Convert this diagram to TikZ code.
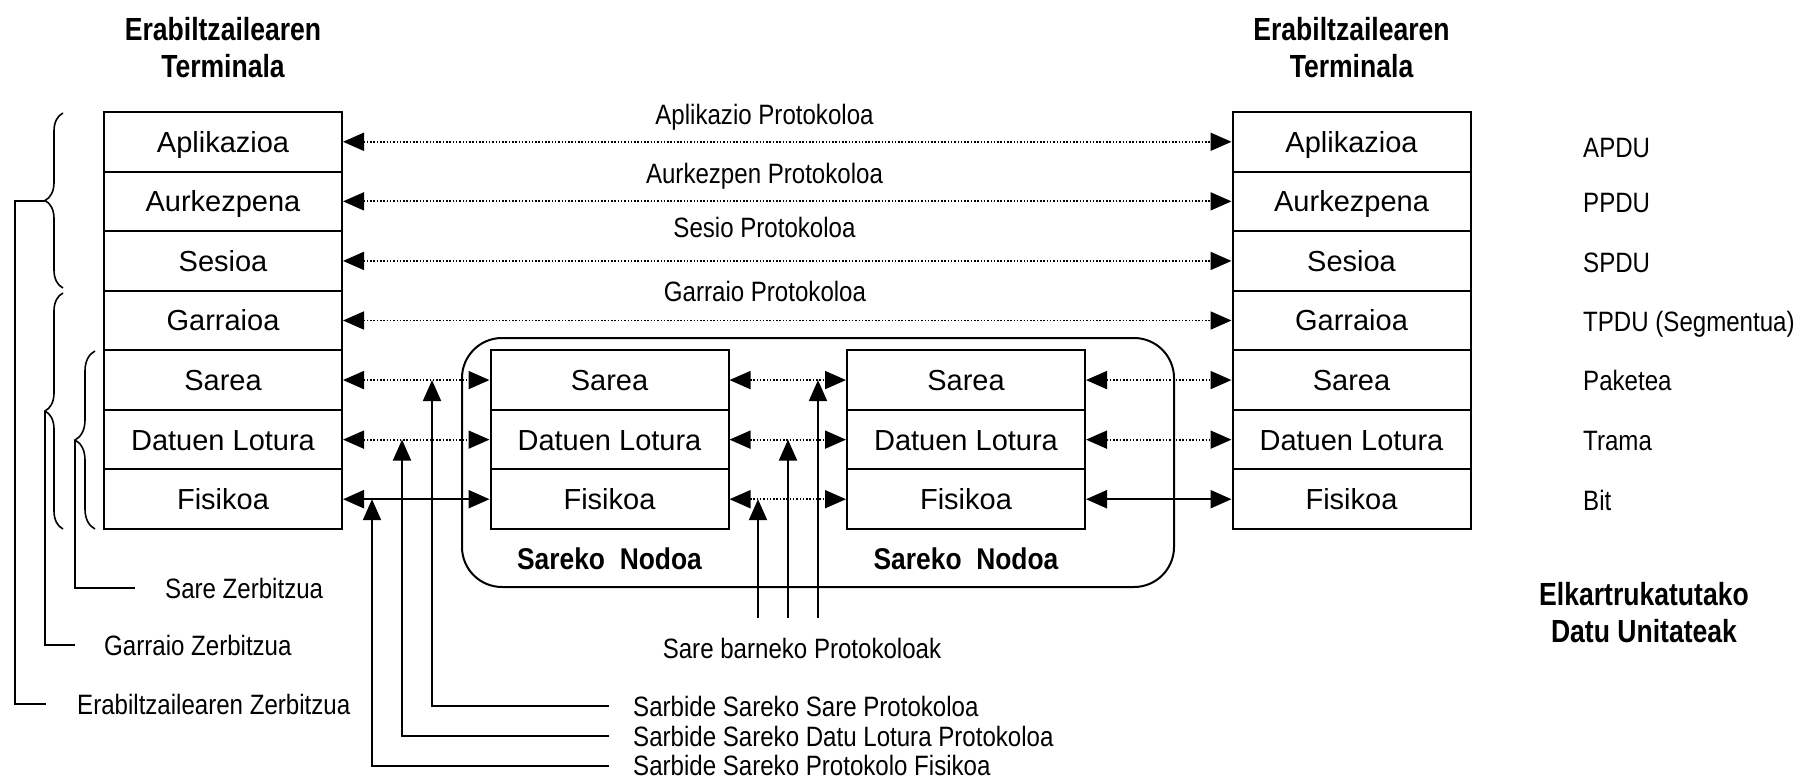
\documentclass[tikz,border=0pt]{standalone}
\usepackage{fontspec}
\setmainfont{Liberation Sans}
\newfontfamily\narrowfont[FakeStretch=0.86]{Liberation Sans}
\newfontfamily\titlefont[FakeStretch=0.83]{Liberation Sans}
\newfontfamily\nodofont[FakeStretch=0.88]{Liberation Sans}
\usetikzlibrary{arrows.meta,decorations.pathreplacing,calc}
\tikzset{
  layer/.style={draw, line width=2pt, minimum width=238pt, minimum height=59.57pt,
    inner sep=0pt, font=\fontsize{29}{34}\selectfont, text height=20.8pt, text depth=0pt},
  narrowlbl/.style={inner sep=0pt, font=\narrowfont\fontsize{28}{33}\selectfont,
    text height=20pt, text depth=0pt},
  titlelbl/.style={inner sep=0pt, align=center, anchor=north,
    font=\titlefont\bfseries\fontsize{32}{37.5}\selectfont},
  nodolbl/.style={inner sep=0pt, font=\nodofont\bfseries\fontsize{30}{35}\selectfont,
    text height=21.5pt, text depth=0pt},
  bigtri/.tip={Triangle[length=21pt,width=18pt]},
  dotarrow/.style={line width=1.8pt, dash pattern=on 1.5pt off 1.8pt, bigtri-bigtri},
  solarrow/.style={line width=2.2pt, bigtri-bigtri},
  uparrow/.style={line width=2pt, -bigtri},
  bracestyle/.style={line width=1.6pt, decorate},
  svc/.style={line width=2pt},
}
\begin{document}
\begin{tikzpicture}[x=1pt,y=-1pt]
\useasboundingbox (0,0) rectangle (1814,779);

% network node enclosure
\node[draw, line width=2pt, rounded corners=40pt, minimum width=712pt, minimum height=249pt, inner sep=0pt] (encl) at (818,462.5) {};

% titles
\node[titlelbl] (tleft) at (223,16.7) {Erabiltzailearen\\Terminala};
\node[titlelbl] (tright) at (1351.5,16.7) {Erabiltzailearen\\Terminala};

% stacks
\foreach \n/\t [count=\i] in {1/Aplikazioa,2/Aurkezpena,3/Sesioa,4/Garraioa,5/Sarea,6/Datuen Lotura,7/Fisikoa}{
  \node[layer] (L\n) at (223,{112+59.57*(\i-0.5)}) {\t};
  \node[layer] (R\n) at (1351.5,{112+59.57*(\i-0.5)}) {\t};
}
\foreach \n/\t [count=\i from 5] in {5/Sarea,6/Datuen Lotura,7/Fisikoa}{
  \node[layer] (A\n) at (609.5,{112+59.57*(\i-0.5)}) {\t};
  \node[layer] (B\n) at (966,{112+59.57*(\i-0.5)}) {\t};
}
\node[nodolbl] (sn1) at (609.5,559) {Sareko\ \ Nodoa};
\node[nodolbl] (sn2) at (966,559) {Sareko\ \ Nodoa};

% peer protocols
\foreach \n in {1,2,3,4}{ \draw[dotarrow] (L\n.east) -- (R\n.west); }
\node[narrowlbl] (p1) at (764.5,114) {Aplikazio Protokoloa};
\node[narrowlbl] (p2) at (764.5,173) {Aurkezpen Protokoloa};
\node[narrowlbl] (p3) at (764.5,227) {Sesio Protokoloa};
\node[narrowlbl] (p4) at (765,291) {Garraio Protokoloa};

\foreach \n in {5,6}{
  \draw[dotarrow] (L\n.east) -- (A\n.west);
  \draw[dotarrow] (A\n.east) -- (B\n.west);
  \draw[dotarrow] (B\n.east) -- (R\n.west);
}
\draw[solarrow] (L7.east) -- (A7.west);
\draw[dotarrow] (A7.east) -- (B7.west);
\draw[solarrow] (B7.east) -- (R7.west);

% data units
\node[narrowlbl, anchor=west] (du1) at (1583,147) {APDU};
\node[narrowlbl, anchor=west] (du2) at (1583,202) {PPDU};
\node[narrowlbl, anchor=west] (du3) at (1583,262) {SPDU};
\node[narrowlbl, anchor=west] (du4) at (1583,321) {TPDU (Segmentua)};
\node[narrowlbl, anchor=west] (du5) at (1583,380) {Paketea};
\node[narrowlbl, anchor=west] (du6) at (1583,440) {Trama};
\node[narrowlbl, anchor=west] (du7) at (1583,500) {Bit};
\node[titlelbl] (dut) at (1644,581.7) {Elkartrukatutako\\Datu Unitateak};

% internal network protocols
\coordinate (ib1) at (758,618);
\coordinate (ib2) at (788,618);
\coordinate (ib3) at (818,618);
\coordinate (it1) at (758,499.2);
\coordinate (it2) at (788,439.6);
\coordinate (it3) at (818,380.1);
\draw[uparrow] (ib1) -- (it1);
\draw[uparrow] (ib2) -- (it2);
\draw[uparrow] (ib3) -- (it3);
\node[narrowlbl] (sbp) at (802,648) {Sare barneko Protokoloak};

% access network protocols
\node[narrowlbl, anchor=west] (sb1) at (633,706) {Sarbide Sareko Sare Protokoloa};
\node[narrowlbl, anchor=west] (sb2) at (633,736) {Sarbide Sareko Datu Lotura Protokoloa};
\node[narrowlbl, anchor=west] (sb3) at (633,765.5) {Sarbide Sareko Protokolo Fisikoa};
\coordinate (at1) at (432,380.1);
\coordinate (at2) at (402,439.6);
\coordinate (at3) at (372,499.2);
\draw[uparrow] ([xshift=-24pt]sb1.west) -| (at1);
\draw[uparrow] ([xshift=-24pt]sb2.west) -| (at2);
\draw[uparrow] ([xshift=-24pt]sb3.west) -| (at3);

% braces and services
\draw[bracestyle, decoration={brace, amplitude=18pt}] (63,288) -- (63,113);
\draw[bracestyle, decoration={brace, amplitude=18pt}] (63,529) -- (63,293);
\draw[bracestyle, decoration={brace, amplitude=20pt}] (95,529) -- (95,351);
\coordinate (bt1) at (45,200.5);
\coordinate (bt2) at (45,411);
\coordinate (bt3) at (75,440);
\node[narrowlbl, anchor=west] (ez) at (77,704) {Erabiltzailearen Zerbitzua};
\node[narrowlbl, anchor=west] (gz) at (104,645) {Garraio Zerbitzua};
\node[narrowlbl, anchor=west] (sz) at (165,588) {Sare Zerbitzua};
\draw[svc] (bt1) -- ++(-30,0) |- ([xshift=-31pt]ez.west);
\draw[svc] (bt2) |- ([xshift=-29pt]gz.west);
\draw[svc] (bt3) |- ([xshift=-30pt]sz.west);
\end{tikzpicture}
\end{document}
